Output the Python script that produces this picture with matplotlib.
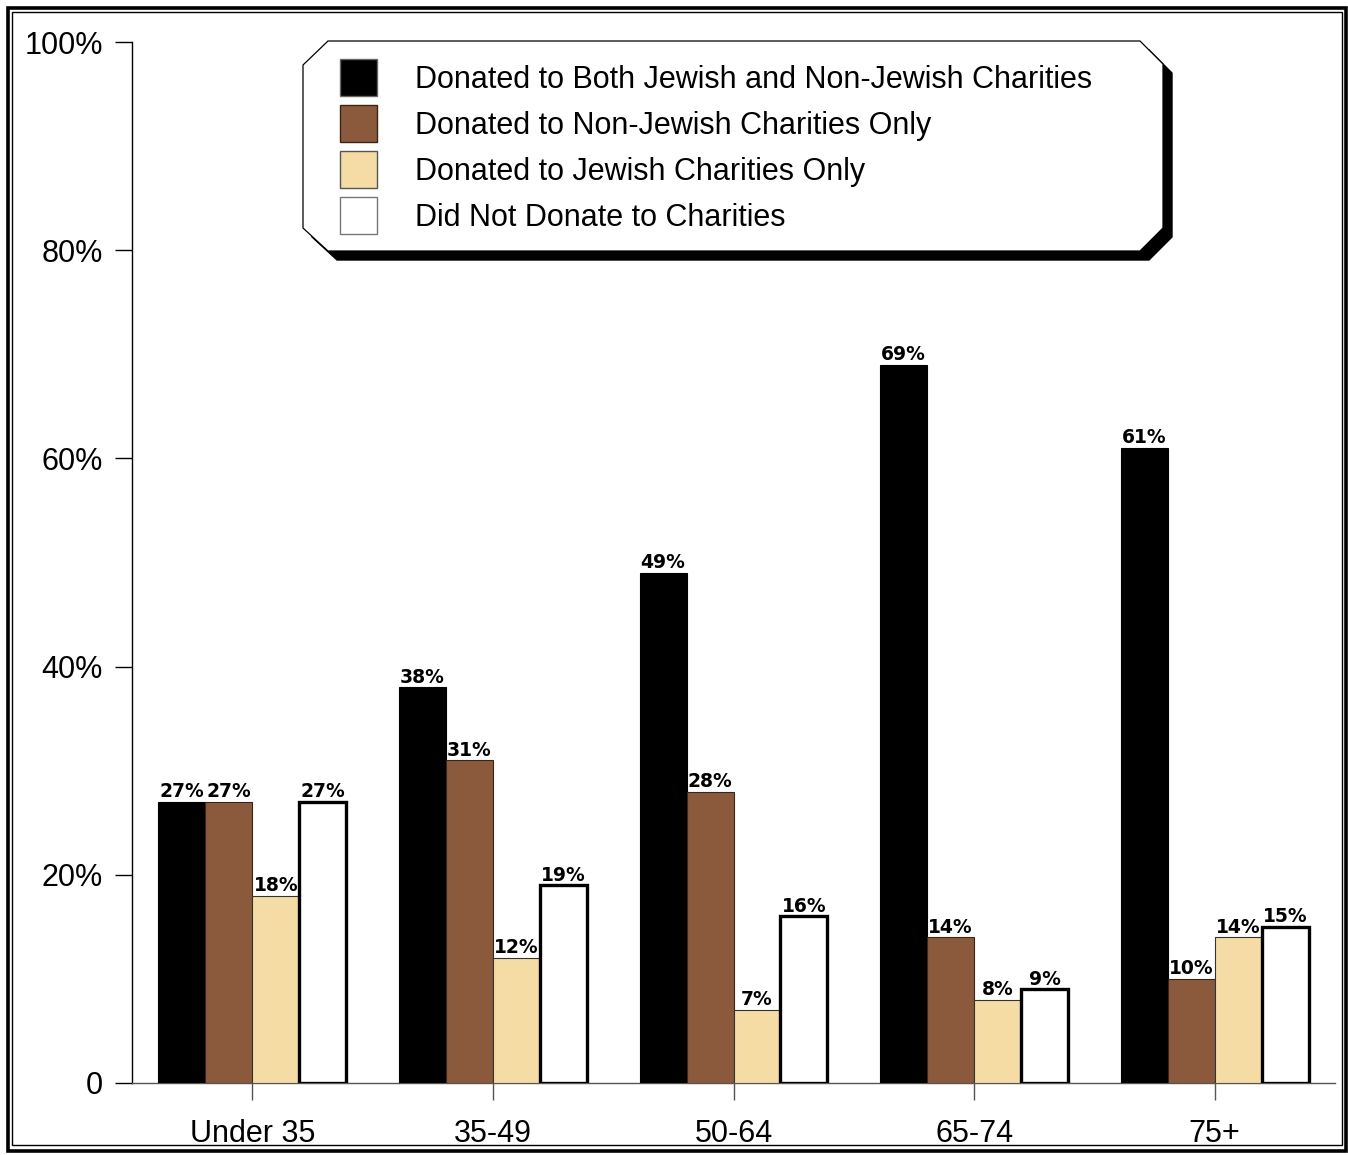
import numpy as np
import matplotlib
matplotlib.use("Agg")
from matplotlib import pyplot as plt
from matplotlib.patches import Polygon, Rectangle

plt.rcParams["font.family"] = ["Liberation Sans", "DejaVu Sans"]

# data (percent)
categories = ["Under 35", "35-49", "50-64", "65-74", "75+"]
both_vals = [27, 38, 49, 69, 61]
non_jewish_vals = [27, 31, 28, 14, 10]
jewish_vals = [18, 12, 7, 8, 14]
none_vals = [27, 19, 16, 9, 15]

series_labels = ["Donated to Both Jewish and Non-Jewish Charities",
                 "Donated to Non-Jewish Charities Only",
                 "Donated to Jewish Charities Only",
                 "Did Not Donate to Charities"]
y_ticks = [0, 20, 40, 60, 80, 100]
y_tick_labels = ["0", "20%", "40%", "60%", "80%", "100%"]

W, H = 1348, 1155
fig = plt.figure(figsize=(W / 100, H / 100), dpi=100)
ax = fig.add_axes([132 / W, 1 - 1083 / H, (1335 - 132) / W, (1083 - 42) / H])


def fx(px):
    return px / W


def fy(py):
    return 1 - py / H


# bar styles
face = ["#000000", "#8B5A3C", "#F5DCA5", "#FFFFFF"]
edge = ["#000000", "#3a2416", "#333333", "#000000"]
lw = [0.8, 0.8, 0.8, 2.4]
series = [both_vals, non_jewish_vals, jewish_vals, none_vals]

x = np.arange(len(categories))
bw = 0.195
offsets = [-1.5 * bw, -0.5 * bw, 0.5 * bw, 1.5 * bw]

for vals, off, fc, ec, w in zip(series, offsets, face, edge, lw):
    bars = ax.bar(x + off, vals, bw, color=fc, edgecolor=ec, linewidth=w, zorder=3)
    for b, v in zip(bars, vals):
        ax.annotate(f"{v}%", (b.get_x() + b.get_width() / 2, v), xytext=(0, 0.5),
                    textcoords="offset points", ha="center", va="bottom",
                    fontsize=13.5, fontweight="bold", family="DejaVu Sans", zorder=1)

ax.set_xlim(-0.5, 4.5)
ax.set_ylim(0, 100)
ax.set_xticks(x)
ax.set_xticklabels(categories, fontsize=22)
ax.set_yticks(y_ticks)
ax.set_yticklabels(y_tick_labels, fontsize=22)
ax.tick_params(axis="y", direction="out", length=12, width=1, pad=9)
ax.tick_params(axis="x", direction="out", length=12, width=1, color="#555555", pad=14)
for s in ["top", "right"]:
    ax.spines[s].set_visible(False)
ax.spines["left"].set_linewidth(1)
ax.spines["bottom"].set_color("#555555")
ax.spines["bottom"].set_linewidth(1)

# legend box: octagon with drop shadow
box = [(328, 41), (1140, 41), (1163, 64), (1163, 228), (1140, 251),
       (328, 251), (303, 228), (303, 65)]
shadow = Polygon([(fx(px + 9), fy(py + 9)) for px, py in box], closed=True,
                 transform=fig.transFigure, facecolor="black", edgecolor="black")
main = Polygon([(fx(px), fy(py)) for px, py in box], closed=True,
               transform=fig.transFigure, facecolor="white", edgecolor="black", linewidth=0.9)
fig.patches.extend([shadow, main])

sq_edge = ["#666666", "#3a2416", "#555555", "#777777"]
for i, (lab, fc, ec) in enumerate(zip(series_labels, face, sq_edge)):
    top = 59 + 46 * i
    fig.patches.append(Rectangle((fx(340), fy(top + 37)), 37 / W, 37 / H,
                                 transform=fig.transFigure, facecolor=fc,
                                 edgecolor=ec, linewidth=1))
    fig.text(fx(415), fy(top + 21), lab, fontsize=22, va="center", ha="left")

# double frame around the figure
fig.patches.append(Rectangle((fx(7.5), fy(1150.5)), (1346 - 7.5) / W, (1150.5 - 7.5) / H,
                             transform=fig.transFigure, fill=False,
                             edgecolor="black", linewidth=2.6))
fig.patches.append(Rectangle((fx(12), fy(1145)), (1342 - 12) / W, (1145 - 12) / H,
                             transform=fig.transFigure, fill=False,
                             edgecolor="black", linewidth=1))

fig.savefig("out.png", dpi=100)
